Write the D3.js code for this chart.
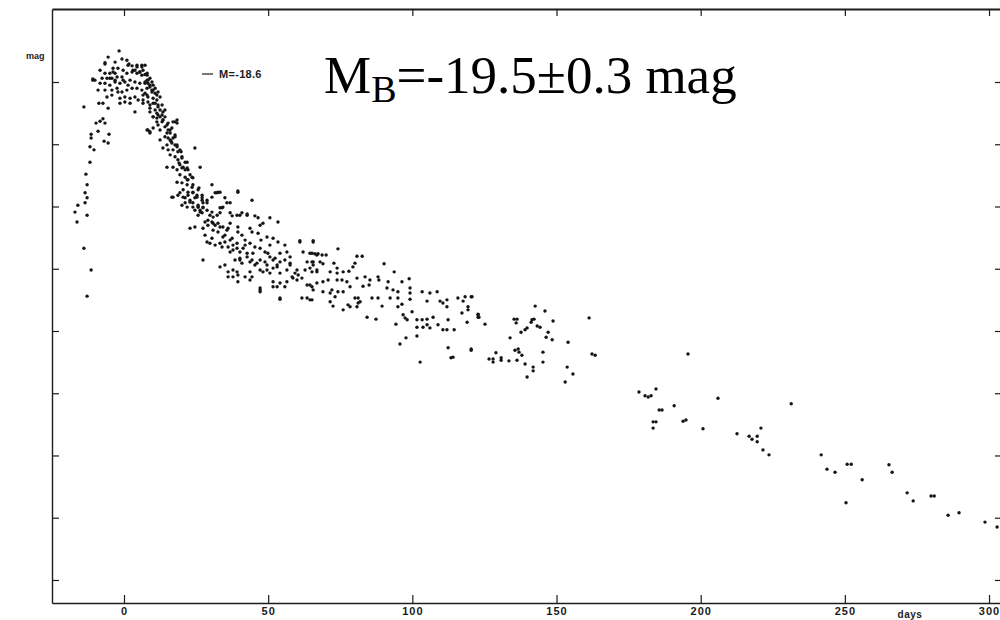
<!DOCTYPE html>
<html>
<head>
<meta charset="utf-8">
<script src="https://cdn.jsdelivr.net/npm/d3@7"></script>
<style>
  html, body { margin: 0; padding: 0; background: #fff; }
  svg { display: block; }
</style>
</head>
<body>
<svg id="chart" width="1000" height="620"></svg>
<script>
// ---- DATA: [day, mag] ----
const risePts = [
 [-13.9,-18.60],[-13.2,-17.52],[-12.8,-17.35],[-13.5,-17.22],[-12.8,-17.14],[-13.5,-17.06],
 [-16.0,-17.02],[-17.0,-16.91],[-16.3,-16.75],[-12.8,-16.86],[-13.9,-16.33],[-11.4,-15.98],
 [-12.8,-15.56],[-11.4,-18.16],[-11.4,-18.10],[-11.8,-17.96],[-10.4,-17.91],[-11.8,-17.71],
 [-9.7,-18.34],[-8.3,-18.37],[-7.3,-18.41],[-9.0,-18.21],[-6.6,-18.34],[-5.2,-18.16],
 [-6.9,-18.05],[-5.5,-18.02],[-8.7,-18.66],[-7.3,-18.66],[-10.8,-19.05],[-8.3,-18.98],
 [-9.0,-18.87],[-10.1,-19.03],[-8.3,-19.19],[-7.6,-19.06],[-10.8,-19.03]
];
const peakPts = [
 [-1.7,-19.50],[-5.5,-19.40],[-0.7,-19.37],[-6.6,-19.29],[1.7,-19.29],[2.8,-19.26],[4.5,-19.27],
 [6.2,-19.24],[7.3,-19.27],[-3.8,-19.22],[-2.1,-19.22],[-0.3,-19.19],[-4.9,-19.14],[-3.1,-19.14],
 [-6.6,-19.14],[-5.9,-19.06],[-4.2,-19.06],[-2.4,-19.08],[-0.7,-19.08],[1.0,-19.14],[2.8,-19.16],
 [4.5,-19.14],[6.2,-19.11],[8.0,-19.14],[-6.6,-18.98],[-4.9,-18.95],[-3.1,-19.00],[-1.4,-18.98],
 [0.3,-19.00],[2.1,-19.03],[3.8,-19.00],[5.5,-18.98],[7.3,-19.00],[8.3,-18.98],[-6.6,-18.87],
 [-4.2,-18.87],[-2.4,-18.90],[-0.7,-18.84],[1.0,-18.87],[2.8,-18.90],[4.5,-18.90],[6.2,-18.87],
 [8.0,-18.90],[9.7,-18.87],[-5.9,-18.76],[-4.2,-18.79],[-1.4,-18.74],[0.3,-18.76],[2.1,-18.74],
 [3.8,-18.76],[6.6,-18.79],[8.3,-18.76],[10.1,-18.74],[-1.4,-18.66],[0.3,-18.68],[2.1,-18.66],
 [3.8,-18.52],[6.6,-18.66],[9.0,-18.63],[10.8,-18.66],[-5.5,-18.58],[9.0,-18.52],[10.1,-18.44],
 [11.4,-18.36],[8.3,-18.23],[9.0,-18.18],[-3.1,-19.32],[1.0,-19.35],[3.8,-19.19],[5.5,-19.16],
 [9.0,-19.06],[9.7,-19.00],[10.8,-18.90],[7.3,-18.82],[4.9,-18.71],[-2.1,-18.84],[1.4,-18.95],
 [-6.6,-19.31],[-3.8,-19.16],[-4.9,-19.06],[-3.1,-19.03],[-0.3,-19.03],[1.4,-19.27],[3.1,-19.19],
 [4.5,-19.24],[5.5,-19.16],[7.3,-19.12],[8.0,-19.03],[9.0,-18.95],[10.1,-18.87],[11.4,-18.79]
];
const declinePts = [
 [6.2,-19.27],[6.6,-19.19],[8.0,-19.11],[8.3,-19.03],[7.3,-18.98],[9.0,-18.92],[10.1,-18.95],
 [9.7,-18.84],[10.8,-18.82],[11.8,-18.84],[8.0,-18.79],[6.6,-18.71],[8.3,-18.68],[10.1,-18.66],
 [11.4,-18.71],[12.5,-18.76],[9.0,-18.58],[10.8,-18.55],[11.8,-18.60],[13.2,-18.63],[13.5,-18.52],
 [10.1,-18.44],[11.4,-18.42],[12.5,-18.44],[14.2,-18.44],[13.2,-18.36],[11.8,-18.31],[8.0,-18.23],
 [9.0,-18.20],[10.1,-18.26],[12.5,-18.23],[14.2,-18.28],[15.3,-18.34],[16.6,-18.26],[17.7,-18.36],
 [18.4,-18.34],[16.0,-18.18],[14.2,-18.12],[15.3,-18.10],[17.0,-18.10],[16.6,-18.02],[14.9,-17.99],
 [13.5,-17.94],[15.3,-17.91],[17.0,-17.91],[18.4,-17.96],[19.4,-17.91],[16.0,-17.83],[17.7,-17.80],
 [18.7,-17.75],[20.1,-17.78],[21.2,-17.71],[14.9,-17.63],[17.0,-17.63],[18.4,-17.59],[20.1,-17.62],
 [21.9,-17.62],[19.4,-17.51],[21.2,-17.47],[22.9,-17.51],[23.9,-17.46],[18.4,-17.39],[20.1,-17.38],
 [21.9,-17.35],[23.6,-17.31],[20.5,-17.27],[22.2,-17.23],[23.9,-17.23],[25.7,-17.27],[16.6,-17.15],
 [18.7,-17.18],[21.2,-17.14],[22.9,-17.10],[25.3,-17.15],[27.1,-17.18],[23.9,-17.06],[25.7,-16.99],
 [27.4,-16.99],[26.4,-16.91],[24.6,-16.94],[28.8,-17.10],[30.5,-17.15],[31.6,-17.22],[32.6,-17.23],
 [26.4,-17.63],[24.6,-17.94],[30.5,-17.35],[39.5,-17.23],[34.3,-16.99],[33.3,-16.98],[35.7,-17.06],
 [36.8,-16.90],[39.2,-16.86],[40.9,-16.90],[42.7,-16.86],
 [11.8,-18.47],[13.5,-18.39],[15.3,-18.23],[16.0,-18.07],[17.7,-17.99],[18.7,-17.88],[19.4,-17.67],
 [21.2,-17.59],[22.2,-17.43],[17.7,-18.15],[14.2,-18.55],[12.5,-18.07],
 [11.8,-18.63],[12.5,-18.55],[11.4,-18.50],[13.2,-18.47],[13.5,-18.39],[14.9,-18.31],[16.0,-18.23],
 [14.9,-18.18],[17.0,-18.36],[18.4,-18.39],[17.7,-18.12],[16.3,-18.05],[18.4,-17.99],[19.8,-17.88],
 [20.1,-17.80],[19.1,-17.70],[21.9,-17.71],[20.5,-17.63],[22.2,-17.59],[23.6,-17.47],[21.9,-17.43],
 [23.9,-17.35],[26.0,-17.30],[25.3,-17.18],[27.1,-17.14],[27.4,-17.06],[25.7,-16.99],[28.8,-16.94],
 [30.5,-16.91],[32.3,-16.86],[29.1,-16.78],[30.9,-16.73],[33.3,-16.67],[35.7,-16.62],[34.3,-16.51],
 [36.8,-16.46],[39.2,-16.41],[37.8,-16.30],[41.3,-16.33],[42.7,-16.25],[40.2,-16.14],[44.4,-16.14],
 [46.1,-16.09],[47.2,-15.98],[49.6,-16.06],[51.7,-16.14],[53.1,-16.03],[54.1,-15.93],[56.5,-15.98],
 [57.6,-16.09],[58.6,-15.85],[60.0,-15.98],[37.8,-15.98],[36.1,-15.87],[39.5,-15.79],[42.0,-15.87],
 [47.2,-15.66],[51.7,-15.71],[54.1,-15.53],[27.4,-16.14],
 [17.0,-17.15],[19.4,-17.22],[20.5,-17.15],[22.2,-17.18],[23.9,-17.22],[24.6,-17.14],[22.9,-17.07],
 [21.2,-17.06],[20.1,-17.02],[21.9,-16.99],[23.9,-16.99],[25.7,-17.02],[27.1,-17.10],[26.4,-16.94],
 [25.7,-16.86],[27.1,-16.90],[27.4,-16.98],[28.8,-17.06],[32.3,-17.22],[33.3,-17.23],[39.5,-17.25],
 [35.0,-17.14],[36.8,-17.06],[34.0,-16.98],[33.3,-16.90],[29.8,-16.86],[30.9,-16.83],[37.5,-16.85],
 [40.2,-16.86],[42.7,-16.88],[45.4,-16.85],[46.5,-16.82],[44.4,-17.10],[28.1,-16.75],[29.1,-16.70],
 [27.4,-16.65],[30.5,-16.75],[31.6,-16.70],[32.6,-16.73],[30.9,-16.62],[34.3,-16.67],[36.8,-16.73],
 [39.5,-16.67],[39.5,-16.59],[40.9,-16.54],[43.7,-16.65],[44.4,-16.59],[48.2,-16.73],[50.6,-16.82],
 [53.4,-16.75],[46.5,-16.57],[49.6,-16.51],[51.7,-16.49],[53.4,-16.43],[22.9,-16.65],[24.6,-16.67],
 [28.8,-16.43],[29.8,-16.41],[31.6,-16.38],[33.3,-16.41],[35.0,-16.43],[34.0,-16.35],[36.1,-16.35],
 [37.8,-16.38],[39.2,-16.33],[36.8,-16.27],[40.2,-16.27],[42.0,-16.38],[43.7,-16.41],[45.4,-16.35],
 [47.2,-16.33],[48.9,-16.27],[49.9,-16.25],[44.7,-16.25],[42.7,-16.19],[40.2,-16.17],[38.5,-16.14],
 [40.9,-16.09],[43.7,-16.11],[45.4,-16.06],[47.2,-16.14],[50.6,-16.19],[52.4,-16.17],[54.1,-16.25],
 [56.5,-16.27],[57.6,-16.19],[55.8,-16.14],[33.3,-16.03],[35.0,-16.06],[36.1,-15.95],
 [39.2,-15.95],[39.5,-15.90],[37.8,-15.87],[43.7,-15.95],[44.4,-15.87],[43.7,-15.82],[48.2,-15.95],
 [49.6,-15.98],[50.6,-15.93],[51.7,-16.01],[53.1,-16.06],[54.1,-16.11],[47.2,-15.69],[47.2,-15.63],
 [51.7,-15.79],[53.1,-15.71],[54.1,-15.77],[55.8,-15.71],[54.1,-15.51],[56.5,-15.79],[58.3,-15.87],
 [59.3,-15.93],[60.4,-15.90],[61.7,-15.85],[60.0,-15.82],[62.8,-15.98],[64.5,-16.01],[65.6,-16.06],
 [66.9,-15.95],[63.5,-15.74],[65.2,-15.71],[61.7,-15.53],[63.5,-15.53],[64.5,-15.50],[61.0,-16.43],
 [65.6,-16.43],[62.1,-16.27],[64.5,-16.25],[66.9,-16.22],[63.5,-16.11],[65.2,-16.11],[47.2,-16.70],
 [28.1,-16.54],[30.5,-16.49],[32.6,-16.59],[35.0,-16.54],[37.5,-16.49],[36.1,-16.65],[42.0,-16.46],
 [47.5,-16.46],[50.6,-16.38],[55.8,-16.38],[57.6,-16.06],[48.9,-16.11]
];
const plateauPts = [
 [65.6,-16.45],[74.2,-16.32],[65.2,-16.25],[66.2,-16.24],[67.3,-16.24],[68.7,-16.22],[70.1,-16.22],
 [80.8,-16.20],[82.6,-16.20],[65.6,-16.11],[68.0,-16.11],[69.0,-16.08],[72.8,-16.09],[66.9,-15.98],
 [65.2,-15.95],[71.5,-15.95],[73.9,-16.01],[73.9,-15.93],[76.0,-15.95],[78.0,-15.96],[79.4,-16.03],
 [80.1,-16.09],[90.2,-16.08],[93.7,-15.95],[80.8,-15.85],[83.6,-15.87],[85.3,-15.82],[88.1,-15.87],
 [88.4,-15.82],[91.6,-15.79],[96.4,-15.79],[98.9,-15.84],[69.0,-15.79],[70.8,-15.82],[73.9,-15.82],
 [75.6,-15.82],[77.3,-15.79],[66.9,-15.77],[64.5,-15.74],[65.6,-15.66],[69.0,-15.63],[72.1,-15.66],
 [74.2,-15.63],[76.0,-15.63],[78.4,-15.71],[82.9,-15.72],[85.0,-15.74],[91.2,-15.69],[93.3,-15.66],
 [95.0,-15.63],[99.2,-15.69],[99.2,-15.61],[103.4,-15.63],[106.1,-15.61],[108.6,-15.63],[71.5,-15.61],
 [73.2,-15.55],[65.2,-15.50],[71.5,-15.47],[72.5,-15.40],[77.7,-15.42],[80.1,-15.53],[81.2,-15.53],
 [81.2,-15.45],[86.0,-15.53],[88.1,-15.53],[89.5,-15.40],[92.3,-15.53],[95.0,-15.53],[96.4,-15.43],
 [95.0,-15.39],[99.2,-15.51],[105.1,-15.48],[109.6,-15.48],[110.6,-15.45],[112.0,-15.50],[112.0,-15.39],
 [115.8,-15.53],[117.6,-15.48],[118.3,-15.55],[120.7,-15.55],[119.3,-15.39],[119.3,-15.34],[117.2,-15.29],
 [122.8,-15.26],[123.1,-15.22],[76.0,-15.34],[78.4,-15.39],[80.8,-15.39],[81.9,-15.47],[84.3,-15.22],
 [87.4,-15.19],[94.3,-15.11],[96.8,-15.26],[97.5,-15.21],[98.2,-15.18],[99.9,-15.31],[101.6,-15.18],
 [101.6,-15.06],[101.6,-14.92],[103.4,-15.18],[105.1,-15.19],[105.1,-15.10],[107.2,-15.22],[103.7,-15.06],
 [106.1,-15.05],[108.9,-15.10],[110.6,-15.02],[112.4,-15.18],[112.0,-15.02],[114.5,-15.02],[119.0,-15.14],
 [97.8,-14.89],[95.7,-14.79],[112.4,-14.73],[114.1,-14.58],[120.4,-14.71],[125.2,-15.11],[102.7,-14.50],
 [113.4,-14.57],[61.0,-16.45]
];
const clusterPts = [
 [120.4,-15.55],[122.8,-15.27],[122.8,-15.22],[120.4,-14.69],[142.6,-15.40],[146.0,-15.32],[135.3,-15.19],
 [136.3,-15.19],[136.0,-15.13],[141.2,-15.14],[141.5,-15.18],[142.2,-15.19],[148.8,-15.16],[139.8,-15.05],
 [139.1,-15.02],[137.7,-14.98],[143.3,-15.08],[144.3,-15.06],[147.1,-14.98],[146.4,-14.90],[148.5,-14.86],
 [133.9,-14.89],[161.3,-15.21],[154.0,-14.82],[135.6,-14.69],[136.7,-14.71],[137.0,-14.66],[138.0,-14.61],
 [129.0,-14.65],[130.8,-14.57],[130.8,-14.53],[128.0,-14.55],[126.6,-14.55],[128.0,-14.50],[133.5,-14.52],
 [136.3,-14.53],[139.1,-14.47],[145.3,-14.66],[145.3,-14.50],[141.9,-14.42],[141.9,-14.36],[139.8,-14.26],
 [153.7,-14.42],[155.7,-14.31],[153.0,-14.18],[162.3,-14.63],[163.4,-14.61]
];
const tailPts = [
 [178.6,-14.02],[180.7,-13.96],[181.8,-13.94],[182.8,-13.96],[184.5,-14.07],[185.6,-13.73],[186.6,-13.73],
 [190.8,-13.80],[183.5,-13.54],[184.5,-13.54],[183.5,-13.44],[193.9,-13.55],[194.9,-13.57],[195.6,-14.63],
 [200.8,-13.43],[206.0,-13.92],[212.6,-13.35],[216.8,-13.31],[217.8,-13.26],[219.6,-13.31],[220.9,-13.44],
 [219.6,-13.22],[221.6,-13.09],[223.7,-13.01],[231.4,-13.83],[241.8,-13.01],[243.8,-12.78],[246.6,-12.73],
 [250.8,-12.86],[252.2,-12.86],[250.4,-12.24],[256.0,-12.61],[265.3,-12.85],[266.4,-12.73],[271.6,-12.40],
 [273.7,-12.27],[279.9,-12.35],[281.0,-12.35],[285.8,-12.04],[289.6,-12.08],[298.6,-11.93],[302.8,-11.85]
];
const xTicks = [0, 50, 100, 150, 200, 250, 300];
const yTicks = [-19, -18, -17, -16, -15, -14, -13, -12, -11];
const xDomain = [-24.97, 304.5];
const yDomain = [-20.173, -10.63];
const legendText = "M=-18.6";
const yLabel = "mag";
const xLabel = "days";

// ---- DRAW ----
(function () {
const svg = d3.select("#chart");
const pL = 52, pR = 1002, pT = 9, pB = 603;
const x = d3.scaleLinear().domain(xDomain).range([pL, pR]);
const y = d3.scaleLinear().domain(yDomain).range([pT, pB]);

const ink = "#1c1c1c";
const sans = "'Liberation Sans', Arial, sans-serif";
function styleAxis(g) {
  g.selectAll("path").attr("stroke", ink).attr("stroke-width", 1.4);
  g.selectAll("line").attr("stroke", ink).attr("stroke-width", 1.2);
  g.selectAll("text").attr("fill", ink)
    .style("font-family", sans).style("letter-spacing", "1px")
    .style("font-weight", "bold").style("font-size", "11px");
}

svg.append("g").attr("transform", `translate(0,${pB})`)
  .call(d3.axisBottom(x).tickValues(xTicks).tickSizeInner(-8).tickSizeOuter(0).tickPadding(4))
  .call(styleAxis);
svg.append("g").attr("transform", `translate(0,${pT})`)
  .call(d3.axisTop(x).tickValues(xTicks).tickSizeInner(-7).tickSizeOuter(0).tickFormat(""))
  .call(styleAxis)
  .call(g => g.select("path").attr("stroke-width", 2));
svg.append("g").attr("transform", `translate(${pL},0)`)
  .call(d3.axisLeft(y).tickValues(yTicks).tickSizeInner(-7).tickSizeOuter(0).tickFormat(""))
  .call(styleAxis);
svg.append("g").attr("transform", `translate(${pR},0)`)
  .call(d3.axisRight(y).tickValues(yTicks).tickSizeInner(-7).tickSizeOuter(0).tickFormat(""))
  .call(styleAxis);

svg.append("text").attr("x", 26).attr("y", 59).text(yLabel)
  .attr("fill", ink).style("font-family", sans)
  .style("font-weight", "bold").style("font-size", "9px");
svg.append("text").attr("x", 910).attr("y", 618).attr("text-anchor", "middle").text(xLabel)
  .attr("fill", ink).style("font-family", sans).style("letter-spacing", "0.5px")
  .style("font-weight", "bold").style("font-size", "10px");

svg.append("line").attr("x1", 202).attr("x2", 213).attr("y1", 74).attr("y2", 74)
  .attr("stroke", ink).attr("stroke-width", 1.2);
svg.append("text").attr("x", 219).attr("y", 78).text(legendText)
  .attr("fill", ink).style("font-family", sans).style("letter-spacing", "0.3px")
  .style("font-weight", "bold").style("font-size", "11px");

const t = svg.append("text").attr("x", 324).attr("y", 93)
  .style("font-family", "'Liberation Serif', 'Times New Roman', serif")
  .style("font-size", "53px").attr("fill", "#000");
t.append("tspan").text("M");
t.append("tspan").text("B").style("font-size", "38px").attr("dy", 9);
t.append("tspan").text("=-19.5±0.3 mag").attr("dy", -9);

const allPts = [].concat(risePts, peakPts, declinePts, plateauPts, clusterPts, tailPts);
svg.append("g").selectAll("circle").data(allPts).join("circle")
  .attr("cx", d => x(d[0])).attr("cy", d => y(d[1]))
  .attr("r", 1.7).attr("fill", "#151515");
})();
</script>
</body>
</html>
